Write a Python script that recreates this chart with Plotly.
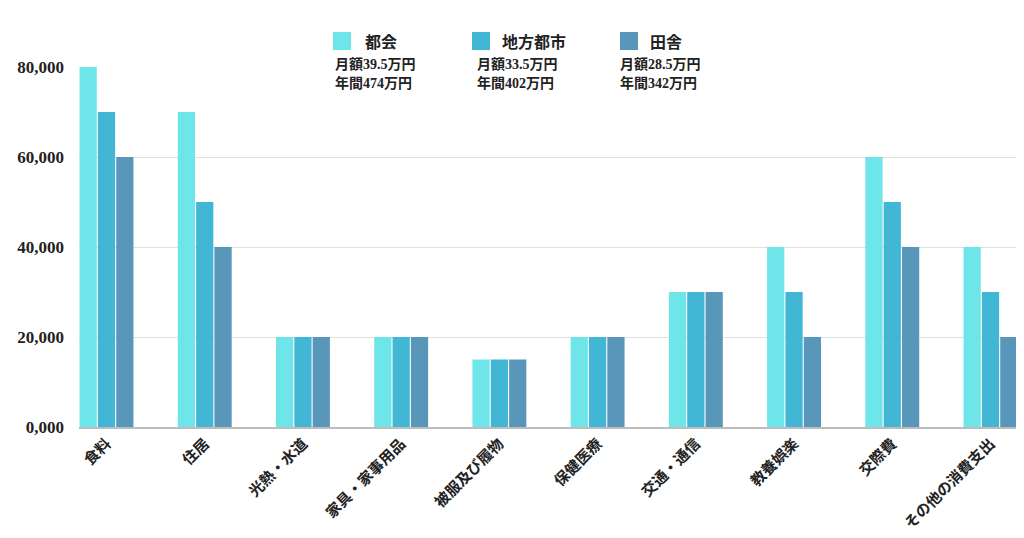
import plotly.graph_objects as go

categories = ['食料', '住居', '光熱・水道', '家具・家事用品', '被服及び履物',
              '保健医療', '交通・通信', '教養娯楽', '交際費', 'その他の消費支出']
city = [80000, 70000, 20000, 20000, 15000, 20000, 30000, 40000, 60000, 40000]
regional = [70000, 50000, 20000, 20000, 15000, 20000, 30000, 30000, 50000, 30000]
rural = [60000, 40000, 20000, 20000, 15000, 20000, 30000, 20000, 40000, 20000]

series_names = ['都会', '地方都市', '田舎']
series_month = ['月額39.5万円', '月額33.5万円', '月額28.5万円']
series_year = ['年間474万円', '年間402万円', '年間342万円']
colors = ['#6EE5E8', '#42B7D5', '#5896BA']

ytick_vals = [0, 20000, 40000, 60000, 80000]
ytick_text = ['0,000', '20,000', '40,000', '60,000', '80,000']

FONT = 'Liberation Serif, Noto Sans CJK JP'

fig = go.Figure()
for name, vals, c in zip(series_names, [city, regional, rural], colors):
    fig.add_trace(go.Bar(x=categories, y=vals, name=name, marker_color=c,
                         marker_line_width=0))

# page body has an 8px margin, so the figure is sized/offset to land the plot at 79..1018 x 67..427
fig.update_layout(
    width=1016, height=530,
    margin=dict(l=71, r=6, t=59, b=111),
    paper_bgcolor='white', plot_bgcolor='white',
    barmode='group', bargap=0.44, bargroupgap=0.06,
    showlegend=False,
    font=dict(family=FONT, color='#222'),
)
fig.update_xaxes(range=[-0.28, 9.28], tickangle=-45, showgrid=False,
                 tickfont=dict(size=15, family=FONT, weight='bold', color='#222'),
                 showline=True, linecolor='#bdbdbd', linewidth=2, ticks='')
fig.update_yaxes(range=[0, 80000], tickvals=ytick_vals, ticktext=ytick_text,
                 showgrid=True, gridcolor='#e0e0e0', gridwidth=1, zeroline=False,
                 tickfont=dict(size=17, family=FONT, weight='bold', color='#222'),
                 ticklabelstandoff=14)

# hide the top gridline behind the legend block
fig.add_shape(type='rect', xref='paper', yref='paper', x0=0.230, x1=0.675,
              y0=0.99, y1=1.01, fillcolor='white', line_width=0, layer='above')

def px_x(p):
    return (p - 79) / 939

def px_y(p):
    return (427 - p) / 360

swatch_x = [333, 472, 620]
label_x = [363, 500, 648]
sub_x = [333, 475, 618]
for i in range(3):
    fig.add_shape(type='rect', xref='paper', yref='paper',
                  x0=px_x(swatch_x[i]), x1=px_x(swatch_x[i] + 18),
                  y0=px_y(50), y1=px_y(32), fillcolor=colors[i], line_width=0)
    fig.add_annotation(xref='paper', yref='paper', x=px_x(label_x[i]), y=px_y(42),
                       text=series_names[i], showarrow=False, xanchor='left', yanchor='middle',
                       font=dict(size=16, family=FONT, weight='bold', color='#222'))
    fig.add_annotation(xref='paper', yref='paper', x=px_x(sub_x[i]), y=px_y(64),
                       text=series_month[i], showarrow=False, xanchor='left', yanchor='middle',
                       font=dict(size=14, family=FONT, weight='bold', color='#222'))
    fig.add_annotation(xref='paper', yref='paper', x=px_x(sub_x[i]), y=px_y(83),
                       text=series_year[i], showarrow=False, xanchor='left', yanchor='middle',
                       font=dict(size=14, family=FONT, weight='bold', color='#222'))

fig.write_html('out.html')
